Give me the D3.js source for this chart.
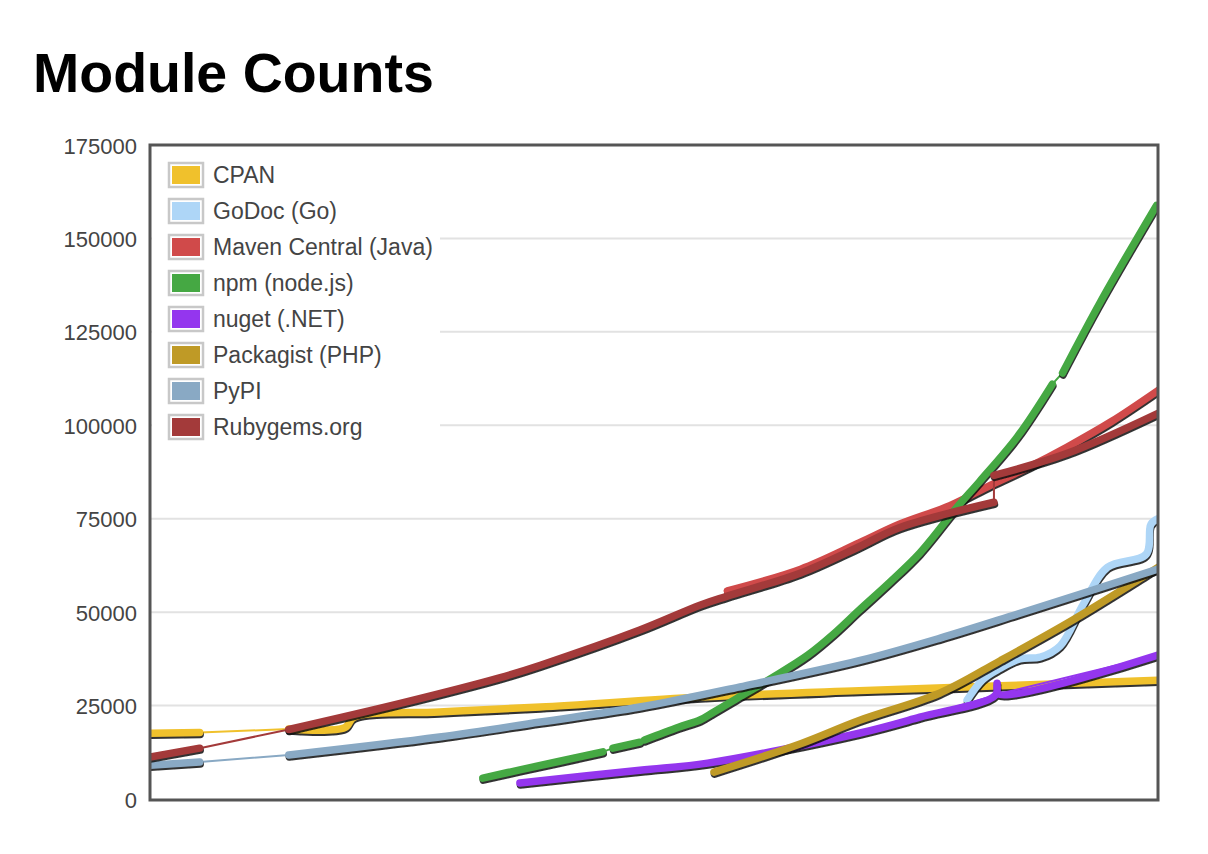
<!doctype html>
<meta charset="utf-8">
<title>Module Counts</title>
<script src="https://cdn.jsdelivr.net/npm/d3@7"></script>
<style>
body { margin: 0; background: #fff; font-family: "Liberation Sans", Arial, Helvetica, sans-serif; }
</style>
<body>
<svg id="chart" width="1208" height="854"></svg>
<script>

// one entry per repository; null marks a stretch with sparse samples (drawn thin)
var names = ['CPAN', 'GoDoc (Go)', 'Maven Central (Java)', 'npm (node.js)', 'nuget (.NET)',
             'Packagist (PHP)', 'PyPI', 'Rubygems.org'];
var colors = ['#f0c12c', '#aed6f7', '#d04a4a', '#45a843', '#9436ee', '#bf9a26', '#89a9c4', '#a33a3a'];

var cpan = [['2010-10-01', 17600], ['2010-12-03', 17800], null, ['2011-03-26', 18700],
  ['2011-06-05', 19100], ['2011-06-17', 21900], ['2011-10-03', 23300], ['2012-02-08', 24600],
  ['2012-08-29', 27300], ['2013-03-18', 29000], ['2013-09-13', 30300], ['2014-04-01', 31800]];
var godoc = [['2013-08-02', 26500], ['2013-08-22', 32000], ['2013-09-13', 35000], ['2013-10-08', 37500],
  ['2013-11-03', 38000], ['2013-11-28', 41000], ['2013-12-27', 52000], ['2014-01-27', 62000],
  ['2014-03-17', 65500], ['2014-03-23', 73500], ['2014-04-01', 75000]];
var maven = [['2012-10-02', 55700], ['2013-01-03', 61500], ['2013-03-18', 68500], ['2013-05-08', 73500],
  ['2013-07-11', 78500], ['2013-09-01', 84000], ['2013-10-21', 89000], ['2013-12-07', 94200],
  ['2014-02-01', 101000], ['2014-04-01', 109300]];
var npm = [['2011-11-27', 5600], ['2012-01-13', 7800], ['2012-04-27', 12600], null,
  ['2012-05-10', 13600], ['2012-06-13', 15200], null, ['2012-06-19', 15800], ['2012-08-01', 19200],
  ['2012-08-29', 21200], ['2012-09-15', 23300], ['2012-10-18', 27400], ['2012-11-29', 32600],
  ['2013-01-12', 38500], ['2013-02-14', 44200], ['2013-03-18', 50500], ['2013-04-26', 58000],
  ['2013-06-03', 65800], ['2013-07-20', 78000], ['2013-08-18', 85000], ['2013-10-05', 97000],
  ['2013-11-18', 111000], null, ['2013-12-01', 114000], ['2014-01-18', 133000], ['2014-03-30', 158800]];
var nuget = [['2012-01-13', 4300], ['2012-06-13', 7700], ['2012-09-07', 9600], ['2013-03-18', 17600],
  ['2013-06-03', 21900], ['2013-09-07', 27800], ['2013-09-09', 31000], ['2013-09-11', 28100],
  ['2014-04-01', 38500]];
var packagist = [['2012-09-15', 7200], ['2013-01-03', 14800], ['2013-03-18', 21000], ['2013-06-28', 28300],
  ['2013-09-13', 37000], ['2013-12-14', 47900], ['2014-03-17', 60000], ['2014-04-01', 62000]];
var pypi = [['2010-10-01', 9000], ['2010-12-03', 9900], null, ['2011-03-26', 11800],
  ['2011-10-03', 16600], ['2012-02-08', 20600], ['2012-06-13', 24600], ['2012-10-18', 30000],
  ['2013-03-18', 37000], ['2013-06-28', 43000], ['2013-10-05', 49500], ['2014-04-01', 61500]];
var rubygems = [['2010-10-01', 11200], ['2010-12-03', 13600], null, ['2011-03-26', 18600],
  ['2011-08-13', 25500], ['2011-12-18', 32400], ['2012-02-08', 35800], ['2012-06-13', 45200],
  ['2012-08-29', 51900], ['2012-10-02', 54300], ['2013-01-03', 60500], ['2013-03-18', 67500],
  ['2013-05-08', 72600], ['2013-09-05', 79400], null, ['2013-09-05', 86600], ['2013-12-07', 92500],
  ['2014-04-01', 103200]];

var series = [cpan, godoc, maven, npm, nuget, packagist, pypi, rubygems];
var yTicks = [0, 25000, 50000, 75000, 100000, 125000, 150000, 175000];

var plotL = 150, plotT = 145, plotR = 1158, plotB = 799;
var parse = d3.timeParse('%Y-%m-%d');

var x = d3.scaleTime()
  .domain([parse('2010-10-01'), parse('2014-04-01')])
  .range([plotL, plotR]);
var y = d3.scaleLinear().domain([0, 175000]).range([plotB, plotT]);

var svg = d3.select('#chart');

var defs = svg.append('defs');
defs.append('clipPath').attr('id', 'plot')
  .append('rect').attr('x', plotL).attr('y', plotT).attr('width', plotR - plotL).attr('height', plotB - plotT + 1);
defs.append('filter').attr('id', 'soft')
  .append('feGaussianBlur').attr('stdDeviation', 0.7);

svg.append('text')
  .attr('x', 33).attr('y', 92)
  .style('font-size', '55.5px').style('font-weight', 'bold').style('fill', '#000')
  .text('Module Counts');

// gridlines
svg.append('g').selectAll('line')
  .data(yTicks.slice(1, -1))
  .enter().append('line')
  .attr('x1', plotL).attr('x2', plotR)
  .attr('y1', function(d) { return y(d) }).attr('y2', function(d) { return y(d) })
  .style('stroke', '#e2e2e2').style('stroke-width', 2);

// y axis labels
var yAxis = svg.append('g')
  .attr('transform', 'translate(' + plotL + ',1)')
  .call(d3.axisLeft(y).tickValues(yTicks).tickFormat(d3.format('d')).tickSize(0).tickPadding(13));
yAxis.select('.domain').remove();
yAxis.selectAll('text')
  .style('font-size', '22px').style('fill', '#444')
  .style('font-family', '"Liberation Sans", Arial, Helvetica, sans-serif');

// legend
var legend = svg.append('g');
legend.append('rect')
  .attr('x', 152).attr('y', 148).attr('width', 288).attr('height', 298)
  .style('fill', '#fff');
var item = legend.selectAll('g.item')
  .data(names)
  .enter().append('g').classed('item', true)
  .attr('transform', function(d, i) { return 'translate(0,' + (175 + 36 * i) + ')' });
item.append('rect')
  .attr('x', 169).attr('y', -12).attr('width', 34).attr('height', 24)
  .style('fill', '#fff').style('stroke', '#c8c8c8').style('stroke-width', 2.5);
item.append('rect')
  .attr('x', 172).attr('y', -9).attr('width', 28).attr('height', 18)
  .style('fill', function(d, i) { return colors[i] });
item.append('text')
  .attr('x', 213).attr('y', 0).attr('dy', '0.35em')
  .style('font-size', '23px').style('fill', '#444')
  .text(function(d) { return d });

// lines
var thick = d3.line()
  .defined(function(d) { return d !== null })
  .x(function(d) { return x(parse(d[0])) })
  .y(function(d) { return y(d[1]) })
  .curve(d3.curveCatmullRom.alpha(0.5));
var thin = d3.line()
  .x(function(d) { return x(parse(d[0])) })
  .y(function(d) { return y(d[1]) });

var lines = svg.append('g').attr('clip-path', 'url(#plot)');
series.forEach(function(s, i) {
  var g = lines.append('g');
  g.append('path')
    .attr('d', thin(s.filter(function(d) { return d !== null })))
    .style('fill', 'none').style('stroke', colors[i]).style('stroke-width', 2);
  g.append('path')
    .attr('d', thick(s))
    .attr('transform', 'translate(0.5,2)')
    .attr('filter', 'url(#soft)')
    .style('fill', 'none').style('stroke', '#111').style('stroke-opacity', 0.85)
    .style('stroke-width', 7.5).style('stroke-linecap', 'round').style('stroke-linejoin', 'round');
  g.append('path')
    .attr('d', thick(s))
    .style('fill', 'none').style('stroke', colors[i])
    .style('stroke-width', 7.5).style('stroke-linecap', 'round').style('stroke-linejoin', 'round');
});

// frame
svg.append('rect')
  .attr('x', plotL).attr('y', plotT).attr('width', plotR - plotL).attr('height', plotB + 1 - plotT)
  .style('fill', 'none').style('stroke', '#555').style('stroke-width', 3);

</script>
</body>
